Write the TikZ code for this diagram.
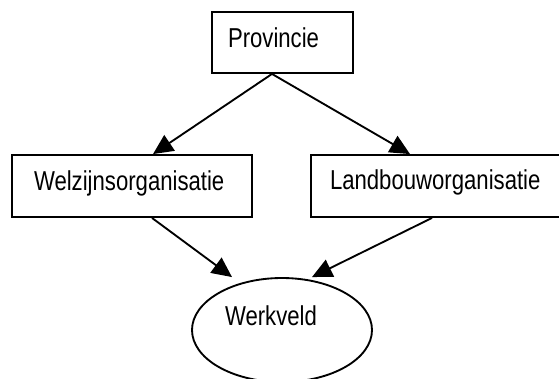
\documentclass[tikz,border=0pt]{standalone}
\usepackage{fontspec}
\setmainfont{Liberation Sans}[FakeStretch=0.81]
\usetikzlibrary{arrows.meta,calc,shapes.geometric}

\begin{document}
\begin{tikzpicture}[x=0.75pt,y=-0.75pt,line width=1.4pt,
		every node/.style={font=\fontsize{20.5}{24}\selectfont,inner ysep=0pt,align=left},
		kader/.style={draw,rectangle},
		ovaal/.style={draw,ellipse,inner sep=0pt,minimum width=135pt,minimum height=78pt},
		pijl/.style={-{Triangle[length=15pt,width=14pt]}}]
		\useasboundingbox (0,0) rectangle (559,378);
		\node[kader,inner xsep=12pt,text width=81.75pt,text height=27pt,text depth=18.75pt] (prov) at (282.5,42.5) {Provincie};
		\node[kader,inner xsep=16.5pt,text width=147pt,text height=26.25pt,text depth=20.25pt] (welz) at (132,186) {Welzijnsorganisatie};
		\node[kader,inner xsep=14.25pt,text width=159.75pt,text height=25.5pt,text depth=21pt] (landb) at (436.5,186) {Landbouworganisatie};
		\node[ovaal,text width=85.5pt,text height=18.75pt,text depth=26.25pt] (werk) at (282,330) {Werkveld};
		\coordinate (splits) at ($(prov.south)+(-10.5,0)$);
		\draw[pijl] (splits) -- ($(welz.north)+(21,0)$);
		\draw[pijl] (splits) -- ($(landb.north)+(-26.5,0)$);
		\draw[pijl] ($(welz.south)+(20,0)$) -- ($(werk.north)+(-50,0)$);
		\draw[pijl] ($(landb.south)+(-4.5,0)$) -- ($(werk.north)+(30,0)$);
	\end{tikzpicture}
\end{document}
